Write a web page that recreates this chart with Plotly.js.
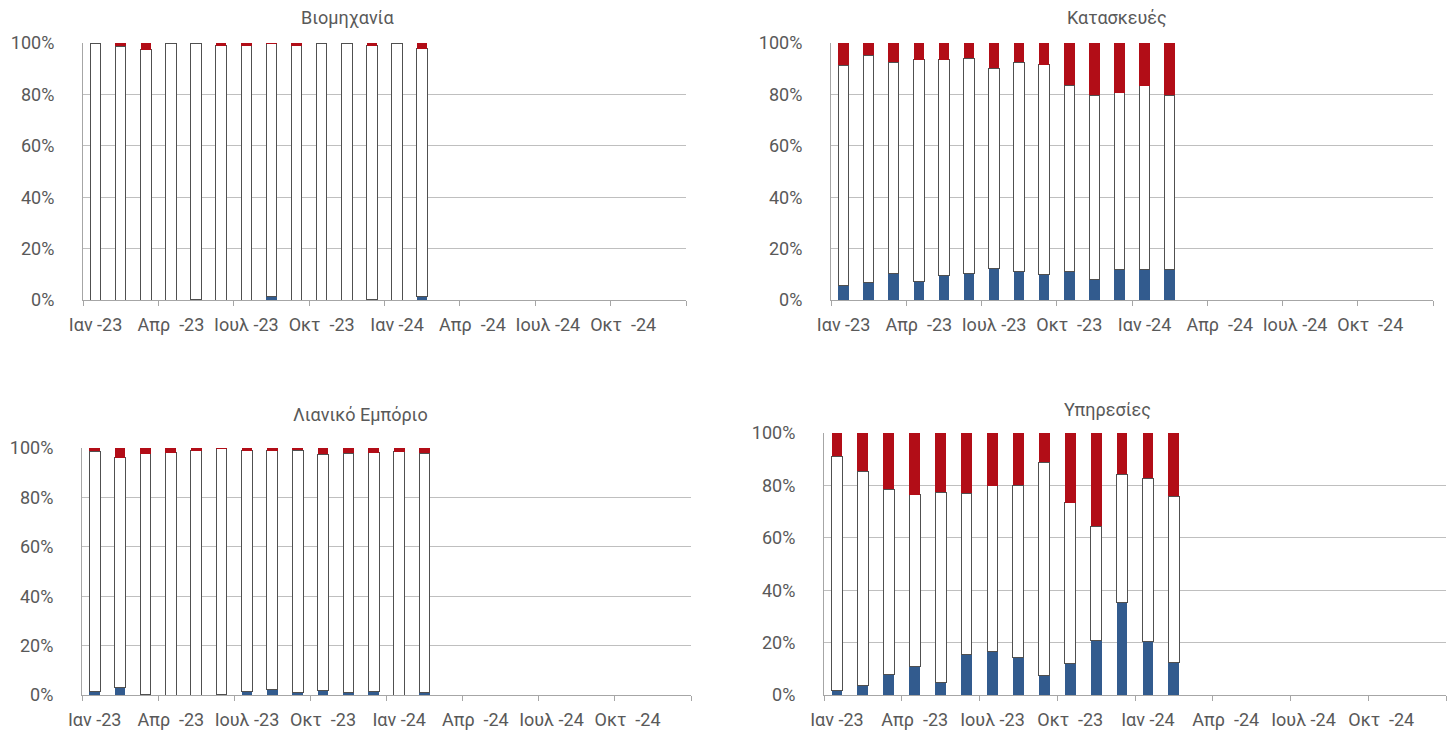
<!DOCTYPE html>
<html><head><meta charset="utf-8">
<script src="https://cdn.plot.ly/plotly-3.0.1.min.js"></script>
<style>html,body{margin:0;padding:0;background:#fff}#chart{width:1454px;height:735px}</style>
</head><body><div id="chart"></div>
<script>
const months = ["Ιαν -23","Φεβ -23","Μαρ -23","Απρ  -23","Μαϊ -23","Ιουν -23","Ιουλ -23","Αυγ -23","Σεπ -23","Οκτ  -23","Νοε -23","Δεκ -23",
                "Ιαν -24","Φεβ -24","Μαρ -24","Απρ  -24","Μαϊ -24","Ιουν -24","Ιουλ -24","Αυγ -24","Σεπ -24","Οκτ  -24","Νοε -24","Δεκ -24"];
const dataMonths = months.slice(0, 14);
const titles = ["Βιομηχανία", "Κατασκευές", "Λιανικό Εμπόριο", "Υπηρεσίες"];

// Βιομηχανία
const indBlue  = [0, 0, 0, 0, 0.2, 0, 0, 1.2, 0, 0, 0, 0.3, 0, 1.5];
const indWhite = [100, 98.8, 97.4, 100, 99.8, 99.0, 99.0, 98.5, 99.0, 100, 100, 98.7, 100, 96.3];
const indRed   = [0, 1.2, 2.6, 0, 0, 1.0, 1.0, 0.3, 1.0, 0, 0, 1.0, 0, 2.2];
// Κατασκευές
const conBlue  = [5.5, 6.8, 10.4, 7.3, 9.4, 10.4, 12.1, 11.2, 10.0, 10.9, 7.9, 12.0, 12.0, 12.0];
const conWhite = [85.8, 88.4, 82.1, 86.1, 84.0, 83.7, 78.0, 81.3, 81.5, 72.6, 71.8, 68.6, 71.4, 67.7];
const conRed   = [8.7, 4.8, 7.5, 6.6, 6.6, 5.9, 9.9, 7.5, 8.5, 16.5, 20.3, 19.4, 16.6, 20.3];
// Λιανικό Εμπόριο
const retBlue  = [1.3, 3.0, 0.4, 0, 0, 0.2, 1.3, 2.4, 0.9, 1.8, 1.2, 1.6, 0, 1.2];
const retWhite = [97.4, 93.0, 97.3, 98.1, 98.9, 99.4, 97.5, 96.4, 98.2, 95.6, 96.6, 96.5, 98.5, 96.6];
const retRed   = [1.3, 4.0, 2.3, 1.9, 1.1, 0.4, 1.2, 1.2, 0.9, 2.6, 2.2, 1.9, 1.5, 2.2];
// Υπηρεσίες
const serBlue  = [1.9, 3.7, 7.9, 10.7, 4.7, 15.4, 16.6, 14.5, 7.5, 12.1, 20.8, 35.3, 20.4, 12.5];
const serWhite = [89.2, 81.7, 70.6, 65.7, 72.6, 61.7, 63.3, 65.6, 81.4, 61.3, 43.7, 49.0, 62.4, 63.3];
const serRed   = [8.9, 14.6, 21.5, 23.6, 22.7, 22.9, 20.1, 19.9, 11.1, 26.6, 35.5, 15.7, 17.2, 24.2];

const yTicks = [0, 20, 40, 60, 80, 100];
const yTickLabels = ["0%", "20%", "40%", "60%", "80%", "100%"];

const BLUE = '#325b8e', RED = '#b20d17', TXT = '#595959', GRID = '#bfbfbf', AX = '#a6a6a6';
const FONT = 'Roboto, "Open Sans", sans-serif';

const sets = [
  [indBlue, indWhite, indRed],
  [conBlue, conWhite, conRed],
  [retBlue, retWhite, retRed],
  [serBlue, serWhite, serRed]
];
const traces = [];
sets.forEach((s, i) => {
  const xa = i === 0 ? 'x' : 'x' + (i + 1);
  const ya = i === 0 ? 'y' : 'y' + (i + 1);
  traces.push({type: 'bar', x: dataMonths, y: s[0], xaxis: xa, yaxis: ya, marker: {color: BLUE, line: {width: 0}}, hoverinfo: 'skip'});
  traces.push({type: 'bar', x: dataMonths, y: s[1], xaxis: xa, yaxis: ya, marker: {color: '#ffffff', line: {color: '#505050', width: 1}}, hoverinfo: 'skip'});
  traces.push({type: 'bar', x: dataMonths, y: s[2], xaxis: xa, yaxis: ya, marker: {color: RED, line: {width: 0}}, hoverinfo: 'skip'});
});

const xDomains = [[83/1454, 686/1454], [831/1454, 1433/1454], [82/1454, 691/1454], [824/1454, 1446/1454]];
const yDomains = [[1-300/735, 1-43/735], [1-300/735, 1-43/735], [1-695/735, 1-448/735], [1-695/735, 1-433/735]];

const layout = {
  width: 1454, height: 735,
  margin: {l: 0, r: 0, t: 0, b: 0},
  paper_bgcolor: '#fff', plot_bgcolor: '#fff',
  barmode: 'stack', bargap: 0.58,
  showlegend: false,
  font: {family: FONT, size: 18, color: TXT},
  annotations: []
};
const titlePos = [[347, 18], [1117, 18], [360, 415], [1107, 410]];
for (let i = 0; i < 4; i++) {
  const sx = i === 0 ? '' : String(i + 1);
  layout['xaxis' + sx] = {
    domain: xDomains[i], anchor: 'y' + sx,
    type: 'category', categoryorder: 'array', categoryarray: months,
    range: [-0.5, 23.5],
    tickmode: 'linear', tick0: 0, dtick: 3, tickangle: 0,
    tickson: 'boundaries', ticks: 'outside', ticklen: 5, tickcolor: AX, tickwidth: 1,
    ticklabelstandoff: 8,
    showline: true, linecolor: AX, linewidth: 1,
    showgrid: false, zeroline: false,
    tickfont: {family: FONT, size: 18, color: TXT},
    fixedrange: true
  };
  layout['yaxis' + sx] = {
    domain: yDomains[i], anchor: 'x' + sx,
    range: [0, 100], tickmode: 'array', tickvals: yTicks, ticktext: yTickLabels,
    showline: true, linecolor: AX, linewidth: 1,
    showgrid: true, gridcolor: GRID, gridwidth: 1, zeroline: false,
    ticks: '', ticklabelstandoff: 24,
    tickfont: {family: FONT, size: 18, color: TXT},
    fixedrange: true
  };
  layout.annotations.push({
    text: titles[i], xref: 'paper', yref: 'paper',
    x: titlePos[i][0] / 1454, y: 1 - titlePos[i][1] / 735,
    xanchor: 'center', yanchor: 'middle', showarrow: false,
    font: {family: FONT, size: 18, color: TXT}
  });
}

Plotly.newPlot('chart', traces, layout, {staticPlot: true, displayModeBar: false});
</script>
</body></html>
